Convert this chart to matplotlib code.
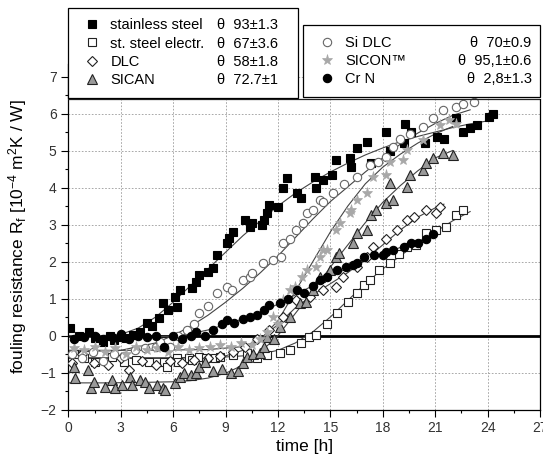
import numpy as np
import matplotlib
matplotlib.use("Agg")
import matplotlib.pyplot as plt
from matplotlib.ticker import MultipleLocator

plt.rcParams["font.family"] = ["Liberation Sans", "DejaVu Sans"]
plt.rcParams["mathtext.fontset"] = "custom"
plt.rcParams["mathtext.rm"] = "Liberation Sans"
plt.rcParams["mathtext.it"] = "Liberation Sans:italic"

# stainless steel (filled squares)
ss_x = [0.1, 0.6, 1.2, 1.5, 2.0, 2.4, 2.6, 3.0, 3.3, 3.7, 4.1, 4.5, 4.8, 5.2, 5.4, 5.7, 6.1, 6.2, 6.4,
        7.1, 7.3, 7.5, 8.0, 8.3, 8.5, 9.1, 9.2, 9.4, 10.1, 10.4, 10.5, 11.1, 11.2, 11.4, 11.5, 12.0,
        12.3, 12.5, 13.1, 13.3, 14.1, 14.2, 14.6, 15.1, 15.3, 16.1, 16.2, 16.5, 17.1, 17.3, 18.2, 18.4,
        19.2, 19.3, 19.6, 20.4, 21.1, 21.5, 22.2, 22.6, 23.0, 23.4, 24.1, 24.3]
ss_y = [0.19, 0.0, 0.1, -0.08, -0.17, 0.0, -0.12, -0.03, -0.08, 0.02, 0.1, 0.33, 0.25, 0.46, 0.87, 0.7,
        1.05, 0.78, 1.23, 1.28, 1.45, 1.64, 1.72, 1.82, 2.18, 2.49, 2.63, 2.81, 3.12, 2.94, 3.03, 2.99,
        3.12, 3.3, 3.53, 3.48, 3.98, 4.25, 3.84, 3.71, 4.29, 3.98, 4.2, 4.34, 4.74, 4.79, 4.56, 5.06,
        5.24, 4.65, 5.51, 5.0, 5.19, 5.73, 5.5, 5.2, 5.37, 5.3, 5.87, 5.5, 5.6, 5.7, 5.91, 6.0]
ss_fx = [0, 2, 3, 4, 5, 6, 7, 8, 9, 10, 11, 12, 13, 14, 15, 16, 17, 18, 19, 20, 21, 22, 23, 24]
ss_fy = [0.0, 0.0, 0.03, 0.2, 0.5, 0.9, 1.35, 1.8, 2.25, 2.7, 3.1, 3.5, 3.85, 4.15, 4.42, 4.66, 4.88,
         5.07, 5.24, 5.38, 5.5, 5.62, 5.72, 5.8]

# st. steel electropolished (open squares)
se_x = [0.3, 0.9, 1.55, 2.5, 3.17, 3.9, 4.6, 5.46, 5.63, 6.2, 6.3, 6.9, 7.06, 7.46, 7.9, 8.4, 8.68, 9.44,
        10.2, 10.8, 11.35, 12.1, 12.7, 13.3, 13.8, 14.2, 14.8, 15.4, 16.0, 16.5, 16.9, 17.26, 17.8, 18.4,
        18.9, 19.4, 19.9, 20.5, 21.07, 21.6, 22.2, 22.6]
se_y = [-0.5, -0.6, -0.71, -0.57, -0.71, -0.65, -0.71, -0.71, -0.84, -0.62, -0.71, -0.62, -0.66, -0.57,
        -0.62, -0.62, -0.57, -0.53, -0.48, -0.6, -0.53, -0.48, -0.4, -0.2, -0.03, 0.01, 0.3, 0.6, 0.9,
        1.15, 1.36, 1.5, 1.77, 1.95, 2.2, 2.4, 2.45, 2.76, 2.85, 2.94, 3.26, 3.39]
se_fx = [0, 3, 6, 9, 10, 11, 12, 13, 14, 15, 16, 17, 18, 19, 20, 21, 22, 23]
se_fy = [-0.6, -0.6, -0.6, -0.58, -0.55, -0.5, -0.4, -0.2, 0.1, 0.5, 0.95, 1.4, 1.8, 2.15, 2.5, 2.8,
         3.1, 3.35]

# DLC (open diamonds)
dlc_x = [0.2, 0.8, 1.45, 2.3, 3.0, 3.45, 4.2, 5.0, 5.8, 6.5, 7.2, 8.0, 8.7, 9.4, 10.1, 10.8, 11.5,
         12.3, 13.06, 13.83, 14.6, 15.35, 15.73, 16.5, 17.07, 17.45, 18.2, 18.8, 19.36, 19.8, 20.5,
         21.07, 21.26]
dlc_y = [-0.75, -0.5, -0.75, -0.8, -0.6, -0.93, -0.7, -0.8, -0.7, -0.75, -0.65, -0.6, -0.55, -0.45,
         -0.3, -0.1, 0.15, 0.51, 0.96, 1.05, 1.23, 1.32, 1.59, 1.86, 2.13, 2.4, 2.62, 2.85, 3.12, 3.2,
         3.39, 3.3, 3.48]
dlc_fx = [0, 3, 6, 9, 10, 11, 12, 13, 14, 15, 16, 17, 18, 19, 20, 21, 21.5]
dlc_fy = [-0.62, -0.62, -0.62, -0.55, -0.4, -0.1, 0.3, 0.75, 1.1, 1.4, 1.7, 2.05, 2.45, 2.85, 3.2,
          3.45, 3.55]

# SICAN (triangles)
sc_x = [0.3, 0.4, 1.1, 1.3, 1.45, 2.1, 2.5, 2.7, 3.1, 3.55, 3.65, 4.1, 4.4, 4.6, 5.1, 5.4, 5.55, 6.1,
        6.4, 6.6, 7.0, 7.3, 7.5, 7.8, 8.3, 8.8, 9.3, 9.7, 10.0, 10.2, 10.6, 11.0, 11.2, 11.35, 11.8,
        12.1, 12.7, 13.25, 13.6, 14.0, 14.4, 15.0, 15.35, 15.5, 16.3, 16.5, 17.1, 17.3, 17.6, 18.2,
        18.4, 18.6, 19.4, 19.55, 20.3, 20.5, 20.9, 21.45, 22.0]
sc_y = [-0.84, -1.16, -0.93, -1.43, -1.25, -1.38, -1.2, -1.43, -1.34, -1.11, -1.34, -1.2, -1.25, -1.43,
        -1.34, -1.43, -1.47, -1.29, -1.11, -1.02, -1.07, -1.02, -0.84, -0.71, -0.95, -0.9, -1.0, -0.95,
        -0.75, -0.57, -0.5, -0.48, -0.3, -0.03, -0.1, 0.24, 0.51, 0.87, 0.9, 1.23, 1.59, 1.77, 2.13,
        2.22, 2.49, 2.76, 2.85, 3.26, 3.39, 3.57, 4.11, 3.66, 4.02, 4.34, 4.47, 4.65, 4.79, 4.92, 4.88]
sc_fx = [0, 2, 4, 6, 7, 8, 9, 10, 11, 12, 13, 14, 15, 16, 17, 18, 19, 20, 21, 22]
sc_fy = [-1.28, -1.28, -1.27, -1.25, -1.22, -1.15, -1.02, -0.8, -0.45, 0.0, 0.6, 1.2, 1.85, 2.45,
         3.05, 3.6, 4.05, 4.45, 4.8, 5.0]

# Si DLC (open circles)
sd_x = [0.2, 0.8, 1.4, 2.0, 2.6, 3.2, 3.8, 4.4, 5.0, 5.25, 5.8, 6.3, 6.8, 7.2, 7.5, 8.0, 8.5, 9.06,
        9.35, 10.0, 10.4, 10.5, 11.16, 11.7, 12.2, 12.3, 12.7, 13.06, 13.44, 13.64, 14.0, 14.4, 14.6,
        15.16, 15.8, 16.5, 17.26, 17.7, 18.2, 18.6, 19.0, 19.55, 20.3, 20.9, 21.45, 22.2, 22.6, 23.2]
sd_y = [-0.5, -0.6, -0.45, -0.7, -0.5, -0.55, -0.4, -0.35, -0.3, -0.17, -0.3, 0.0, 0.15, 0.3, 0.6,
        0.8, 1.14, 1.32, 1.23, 1.5, 1.59, 1.68, 1.95, 2.04, 2.13, 2.49, 2.6, 2.85, 3.03, 3.3, 3.39,
        3.66, 3.62, 3.84, 4.1, 4.29, 4.61, 4.7, 4.83, 5.1, 5.3, 5.46, 5.64, 5.87, 6.1, 6.18, 6.25, 6.32]
sd_fx = [0, 3, 5, 6, 7, 8, 9, 10, 11, 12, 13, 14, 15, 16, 17, 18, 19, 20, 21, 22, 23]
sd_fy = [-0.45, -0.4, -0.2, 0.0, 0.25, 0.55, 0.9, 1.28, 1.7, 2.15, 2.65, 3.15, 3.62, 4.02, 4.42, 4.8,
         5.17, 5.47, 5.73, 5.95, 6.1]

# SICON (grey stars)
si_x = [0.3, 0.9, 1.5, 2.1, 2.7, 3.3, 3.9, 4.5, 5.1, 5.7, 6.3, 6.9, 7.5, 8.1, 8.7, 9.3, 9.9, 10.5,
        11.0, 11.4, 11.73, 12.0, 12.3, 12.68, 13.0, 13.35, 13.64, 14.2, 14.4, 14.6, 14.8, 15.35, 15.54,
        16.1, 16.2, 16.5, 17.07, 17.45, 18.2, 18.4, 19.16, 19.36, 20.3, 21.26, 21.8, 22.2]
si_y = [-0.35, -0.4, -0.3, -0.45, -0.35, -0.5, -0.3, -0.4, -0.35, -0.45, -0.3, -0.4, -0.35, -0.3,
        -0.25, -0.3, -0.2, -0.25, -0.1, 0.1, 0.51, 0.3, 0.96, 1.23, 1.3, 1.59, 1.77, 1.86, 2.13, 2.31,
        2.31, 2.85, 3.03, 3.3, 3.39, 3.66, 3.84, 4.29, 4.34, 4.7, 4.74, 5.01, 5.28, 5.69, 5.83, 5.73]
si_fx = [0, 4, 8, 10, 11, 12, 13, 14, 15, 16, 17, 18, 19, 20, 21, 22]
si_fy = [-0.4, -0.4, -0.38, -0.3, -0.1, 0.4, 1.2, 2.0, 2.8, 3.5, 4.1, 4.55, 4.9, 5.2, 5.45, 5.65]

# Cr N (filled circles)
cr_x = [0.3, 0.9, 1.5, 2.0, 2.5, 3.0, 3.5, 4.0, 4.5, 5.0, 5.5, 6.0, 6.5, 7.0, 7.3, 7.8, 8.3, 8.8,
        9.1, 9.5, 10.0, 10.4, 10.8, 11.2, 11.5, 12.1, 12.6, 13.1, 13.5, 14.0, 14.4, 14.8, 15.4, 15.9,
        16.3, 16.5, 16.9, 17.5, 18.0, 18.2, 18.6, 19.2, 19.6, 20.0, 20.5, 20.9]
cr_y = [-0.1, -0.05, 0.0, -0.1, -0.05, 0.05, -0.1, 0.0, -0.05, 0.0, -0.3, 0.0, -0.1, 0.0, 0.1, 0.0,
        0.15, 0.3, 0.42, 0.35, 0.45, 0.51, 0.55, 0.69, 0.82, 0.87, 1.0, 1.23, 1.15, 1.35, 1.5, 1.59,
        1.77, 1.86, 1.91, 1.95, 2.13, 2.18, 2.18, 2.26, 2.31, 2.4, 2.49, 2.5, 2.6, 2.75]
cr_fx = [0, 3, 6, 7, 8, 9, 10, 11, 12, 13, 14, 15, 16, 17, 18, 19, 20, 21]
cr_fy = [-0.05, -0.05, -0.02, 0.05, 0.15, 0.3, 0.45, 0.62, 0.85, 1.1, 1.35, 1.6, 1.82, 2.02, 2.2,
         2.38, 2.55, 2.7]

names1 = ["stainless steel", "st. steel electr.", "DLC", "SICAN"]
theta1 = ["\u03b8  93\u00b11.3", "\u03b8  67\u00b13.6", "\u03b8  58\u00b11.8", "\u03b8  72.7\u00b11"]
names2 = ["Si DLC", "SICON\u2122", "Cr N"]
theta2 = ["\u03b8  70\u00b10.9", "\u03b8  95,1\u00b10.6", "\u03b8  2,8\u00b11.3"]

styles = [
    dict(marker="s", ms=6.0, mfc="black", mec="black", mew=0.8),
    dict(marker="s", ms=6.0, mfc="white", mec="#222222", mew=0.8),
    dict(marker="D", ms=5.4, mfc="white", mec="#222222", mew=0.8),
    dict(marker="^", ms=6.5, mfc="#9a9a9a", mec="#222222", mew=0.8),
    dict(marker="o", ms=6.0, mfc="white", mec="#666666", mew=0.8),
    dict(marker="*", ms=8.0, mfc="#a8a8a8", mec="#a8a8a8", mew=0.5),
    dict(marker="o", ms=6.0, mfc="black", mec="black", mew=0.8),
]
series = [(ss_x, ss_y, ss_fx, ss_fy), (se_x, se_y, se_fx, se_fy), (dlc_x, dlc_y, dlc_fx, dlc_fy),
          (sc_x, sc_y, sc_fx, sc_fy), (sd_x, sd_y, sd_fx, sd_fy), (si_x, si_y, si_fx, si_fy),
          (cr_x, cr_y, cr_fx, cr_fy)]

fig = plt.figure(figsize=(5.43, 4.62), dpi=100)
ax = fig.add_axes([0.1258, 0.1136, 0.8687, 0.7488])

ax.axhline(0, color="black", lw=2.0, zorder=1.5)
handles = []
for (x, y, fx, fy), st in zip(series, styles):
    ax.plot(fx, fy, color="#444444", lw=0.8, zorder=2)
    h, = ax.plot(x, y, ls="none", zorder=3, **st)
    handles.append(h)

ax.set_xlim(0, 27)
ax.set_ylim(-2, 7.35)
ax.xaxis.set_major_locator(MultipleLocator(3))
ax.xaxis.set_minor_locator(MultipleLocator(1.5))
ax.yaxis.set_major_locator(MultipleLocator(1))
ax.yaxis.set_minor_locator(MultipleLocator(0.5))
ax.tick_params(which="major", direction="out", length=5, width=0.8, labelsize=10, labelcolor="#333333")
ax.tick_params(which="minor", direction="out", length=2.5, width=0.8)
ax.set_yticks(range(-2, 8))
ax.grid(True, which="major", ls=(0, (2, 2)), color="#9a9a9a", lw=0.6)
ax.set_axisbelow(True)

# frame closes at 6.4, the left axis runs on to the 7 tick
ax.spines["top"].set_visible(False)
ax.spines["right"].set_bounds(-2, 6.4)
ax.axhline(6.4, color="#222222", lw=0.9, zorder=4)
for s in ["left", "bottom", "right"]:
    ax.spines[s].set_linewidth(0.9)

ax.set_xlabel("time [h]", fontsize=12.5, labelpad=3)
ax.set_ylabel(r"fouling resistance R$_\mathrm{f}$ [10$^{\mathrm{-4}}$ m$^\mathrm{2}$K / W]",
              fontsize=12.5, labelpad=8)

leg_kw = dict(loc="upper left", mode="expand", borderaxespad=0, borderpad=0.7, handlelength=1.9,
              handletextpad=0.3, labelspacing=0.3, fontsize=10.5, fancybox=False, framealpha=1,
              edgecolor="black", bbox_transform=fig.transFigure)
leg1 = fig.legend(handles[:4], names1, bbox_to_anchor=(0.1252, 0.79, 0.4236, 0.1927), **leg_kw)
leg2 = fig.legend(handles[4:], names2, bbox_to_anchor=(0.558, 0.7944, 0.4365, 0.1505), **leg_kw)
for leg in (leg1, leg2):
    leg.get_frame().set_linewidth(0.9)

fig.canvas.draw()
inv = fig.transFigure.inverted()
for leg, vals, xr in ((leg1, theta1, 0.512), (leg2, theta2, 0.979)):
    for t, v in zip(leg.get_texts(), vals):
        bb = t.get_window_extent()
        y0 = inv.transform((0, bb.y0))[1]
        fig.text(xr, y0, v, ha="right", va="bottom", fontsize=10.5, zorder=10)

fig.savefig("out.png", dpi=100)
